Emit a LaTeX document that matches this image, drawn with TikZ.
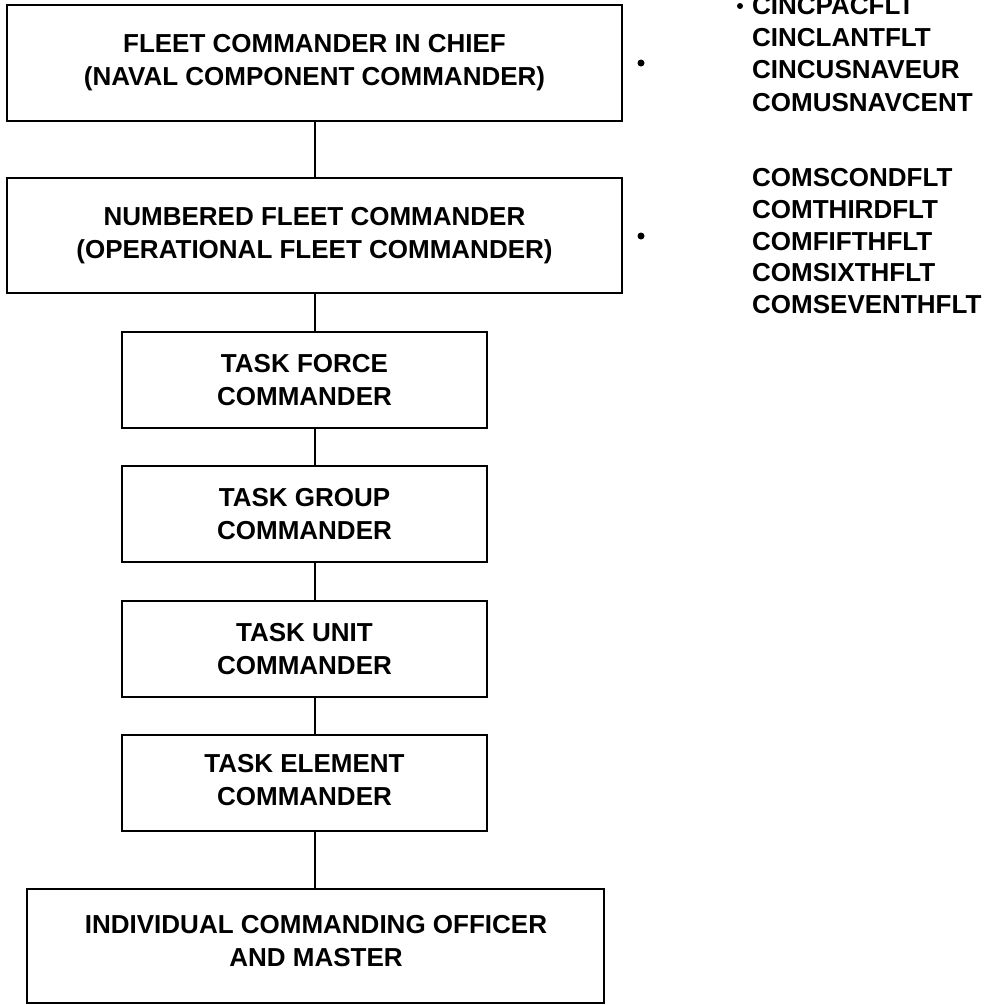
\documentclass[tikz,border=0pt]{standalone}
\usepackage{fontspec}
\setmainfont{Liberation Sans}
\begin{document}
\begin{tikzpicture}[x=1pt,y=-1pt,
  box/.style={draw, line width=2pt, inner sep=0pt},
  wide/.style={box, minimum width=615pt, minimum height=115.5pt},
  narrow/.style={box, minimum width=365pt, minimum height=96pt},
  label/.style={align=center, inner sep=0pt, text depth=0pt,
    font=\fontsize{26}{33}\selectfont\bfseries},
  item/.style={anchor=west, inner sep=0pt, text height=18.6pt, text depth=0pt,
    font=\fontsize{26}{32}\selectfont\bfseries},
  dot/.style={circle, fill=black, inner sep=0pt, minimum size=7pt},
  link/.style={line width=1.4pt}]
\useasboundingbox (0,0) rectangle (989,1005);

% chain of command boxes
\node[wide] (b1) at (314.5,63) {};
\node[wide] (b2) at (314.5,235.7) {};
\node[narrow] (b3) at (304.5,380) {};
\node[narrow] (b4) at (304.5,514) {};
\node[narrow] (b5) at (304.5,649) {};
\node[narrow] (b6) at (304.5,783) {};
\node[box, minimum width=577pt, minimum height=114pt] (b7) at (315.5,946) {};

% box texts
\node[label] (t1) at (314.5,60) {FLEET COMMANDER IN CHIEF\\(NAVAL COMPONENT COMMANDER)};
\node[label] (t2) at (314.5,232.5) {NUMBERED FLEET COMMANDER\\(OPERATIONAL FLEET COMMANDER)};
\node[label] (t3) at (304.5,380) {TASK FORCE\\COMMANDER};
\node[label] (t4) at (304.5,514) {TASK GROUP\\COMMANDER};
\node[label] (t5) at (304.5,649) {TASK UNIT\\COMMANDER};
\node[label] (t6) at (304.5,780) {TASK ELEMENT\\COMMANDER};
\node[label] (t7) at (316,940.5) {INDIVIDUAL COMMANDING OFFICER\\AND MASTER};

% vertical spine joining the boxes
\coordinate (spine) at (315,0);
\foreach \a/\b in {b1/b2,b2/b3,b3/b4,b4/b5,b5/b6,b6/b7}
  \draw[link] (\a.south -| spine) -- (\b.north -| spine);

% bullets beside the two fleet boxes
\node[dot] (d1) at (641,63) {};
\node[dot] (d2) at (641,236) {};

% fleet commands
\node[dot, minimum size=6pt] (d0) at (740,6) {};
\foreach \n/\y/\t in {1/4.7/CINCPACFLT,2/36.7/CINCLANTFLT,3/69.2/CINCUSNAVEUR,4/101.7/COMUSNAVCENT,
  5/177/COMSCONDFLT,6/209/COMTHIRDFLT,7/241/COMFIFTHFLT,8/272.5/COMSIXTHFLT,9/304/COMSEVENTHFLT}
  \node[item] (l\n) at (752,\y) {\t};
\end{tikzpicture}
\end{document}
